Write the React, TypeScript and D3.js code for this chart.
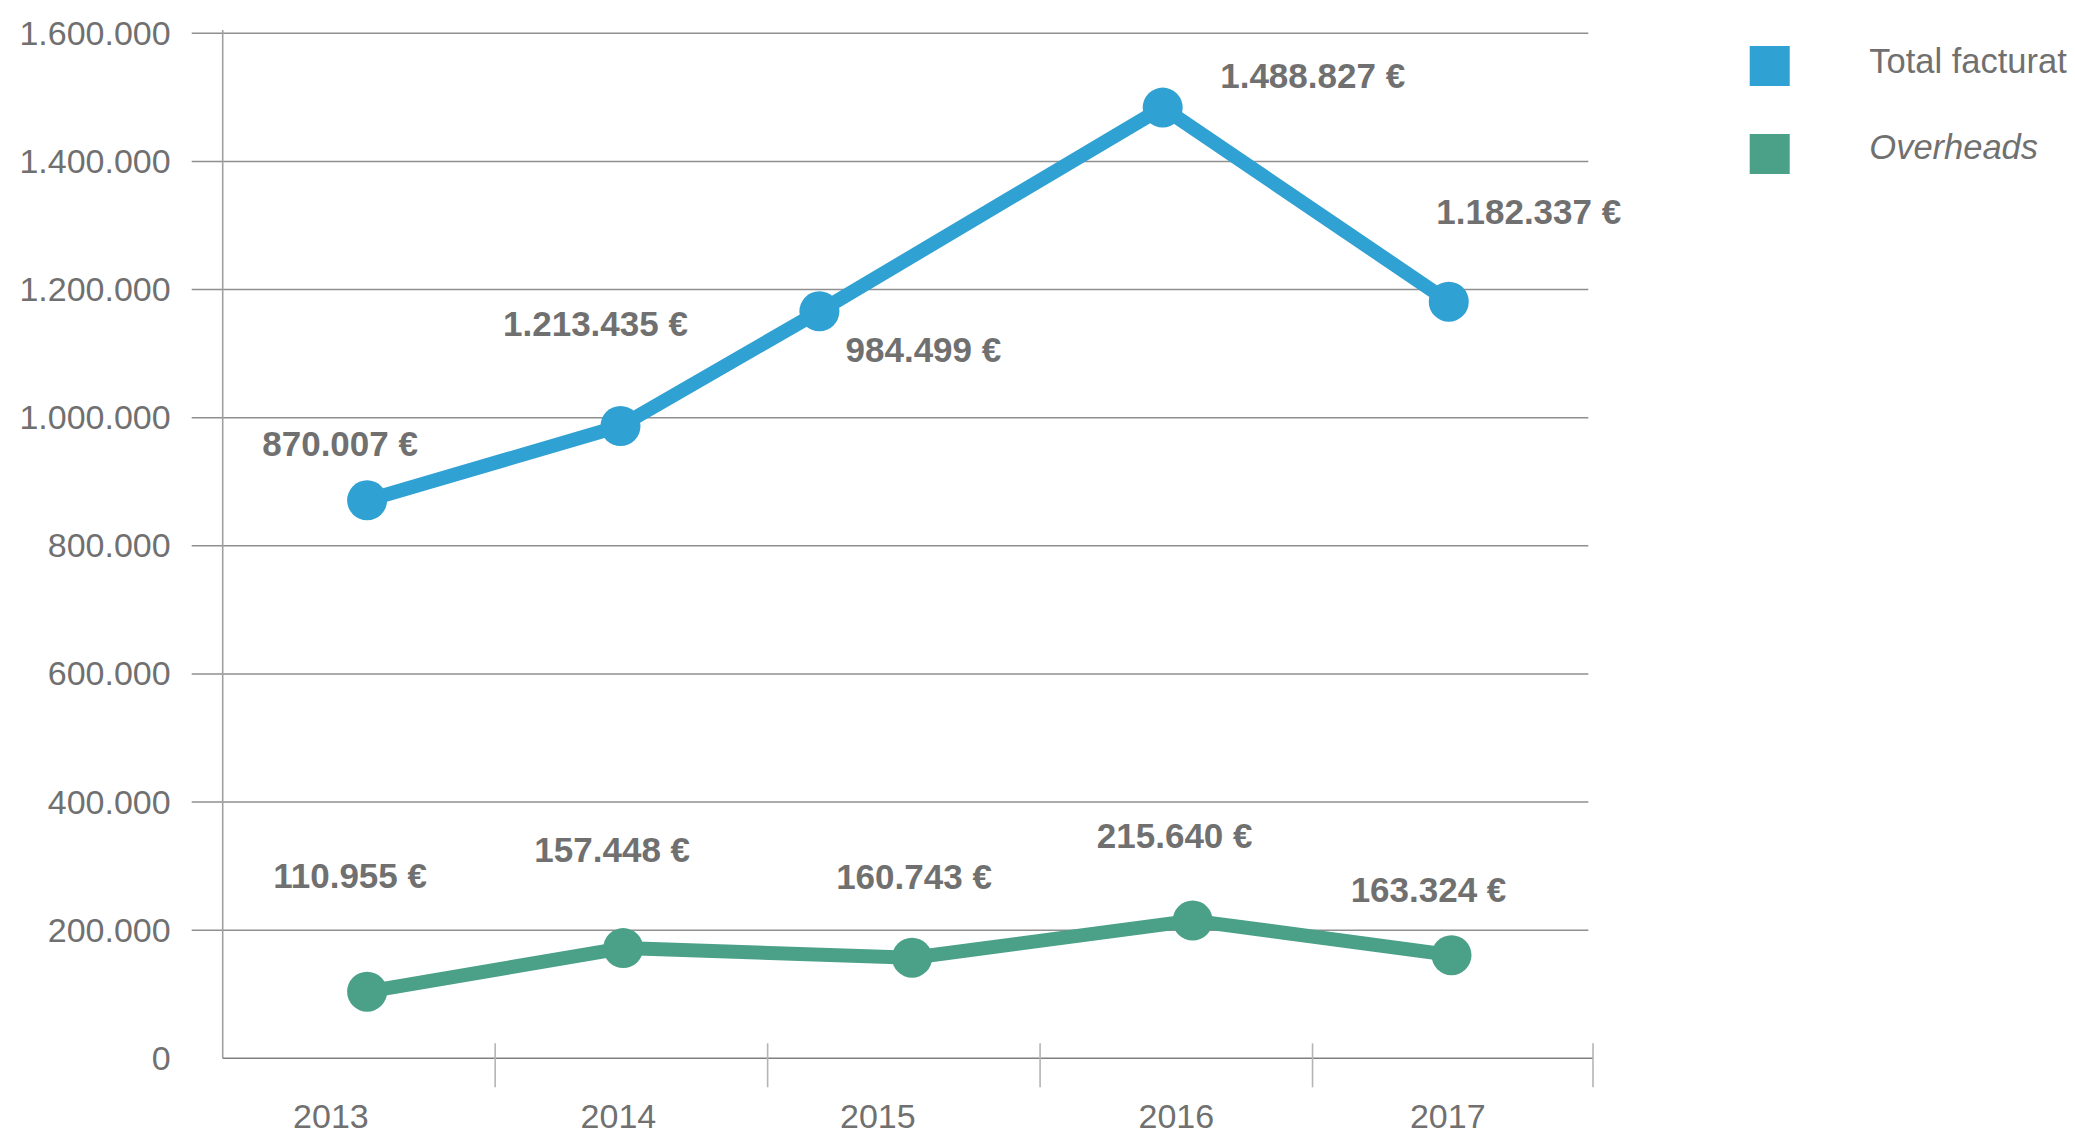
import React from "react";
import * as d3 from "d3";

// ---- data ----
const years = [2013, 2014, 2015, 2016, 2017];
const yTicks = [0, 200000, 400000, 600000, 800000, 1000000, 1200000, 1400000, 1600000];
const yTickLabels = ["0", "200.000", "400.000", "600.000", "800.000", "1.000.000", "1.200.000", "1.400.000", "1.600.000"];

// Total facturat: plotted positions (in year units) and plotted values
const totalYearPos = [2013.03, 2013.96, 2014.69, 2015.95, 2017.0];
const totalValues = [871000, 987000, 1166000, 1484000, 1181000];
const totalLabels = ["870.007 €", "1.213.435 €", "984.499 €", "1.488.827 €", "1.182.337 €"];

// Overheads
const overheadYearPos = [2013.03, 2013.97, 2015.03, 2016.06, 2017.01];
const overheadValues = [104000, 172000, 157000, 215000, 161000];
const overheadLabels = ["110.955 €", "157.448 €", "160.743 €", "215.640 €", "163.324 €"];

const legendNames = ["Total facturat", "Overheads"];

// ---- layout ----
const W = 2075;
const H = 1134;
const BLUE = "#30a1d3";
const GREEN = "#4ba088";
const TEXT = "#707070";
const GRID = "#8f8f8f";
const FONT = "'Liberation Sans', Arial, Helvetica, sans-serif";

// label offsets relative to markers / band centres (pixels)
const totalLabelOffsets = [[-27, -44], [-25, -90], [104, 51], [150, -20], [80, -78]];
const overheadLabelOffsets = [[-17, -104], [-11, -86], [2, -69], [-18, -73], [-23, -53]];
const xLabelOffsets = [-28, -13, -26, 0, -1];

export default function App() {
  const x = d3.scaleLinear().domain([2012.5, 2017.5]).range([222.7, 1585]);
  const y = d3.scaleLinear().domain([0, 1600000]).range([1058.3, 33.3]);
  const y0 = y(0);
  const axisEnd = 1593;

  const line = d3
    .line<[number, number]>()
    .x((d) => x(d[0]))
    .y((d) => y(d[1]));

  const totalPts: [number, number][] = totalYearPos.map((p, i) => [p, totalValues[i]]);
  const overPts: [number, number][] = overheadYearPos.map((p, i) => [p, overheadValues[i]]);

  const tickXs = [...years.slice(0, -1).map((yr) => x(yr + 0.5)), axisEnd];

  const series = [
    { pts: totalPts, color: BLUE, labels: totalLabels, offs: totalLabelOffsets },
    { pts: overPts, color: GREEN, labels: overheadLabels, offs: overheadLabelOffsets },
  ];

  return (
    <svg
      width={W}
      height={H}
      style={{ position: "absolute", left: 0, top: 0, background: "#fff" }}
      fontFamily={FONT}
    >
      {/* gridlines */}
      {yTicks.slice(1).map((t) => (
        <line key={t} x1={191.7} x2={1588.3} y1={y(t)} y2={y(t)} stroke={GRID} strokeWidth={1.6} />
      ))}
      {/* y labels */}
      {yTicks.map((t, i) => (
        <text key={"yl" + t} x={170.7} y={y(t) + 11.5} textAnchor="end" fontSize={34} fill={TEXT}>
          {yTickLabels[i]}
        </text>
      ))}
      {/* axes */}
      <line x1={222.7} x2={222.7} y1={30} y2={y0} stroke="#a0a0a0" strokeWidth={1.6} />
      <line x1={222.7} x2={axisEnd} y1={y0} y2={y0} stroke="#808080" strokeWidth={1.6} />
      {tickXs.map((tx, i) => (
        <line key={"tk" + i} x1={tx} x2={tx} y1={y0 - 15} y2={y0 + 29} stroke="#b4b4b4" strokeWidth={1.6} />
      ))}
      {/* x labels */}
      {years.map((yr, i) => (
        <text key={"xl" + yr} x={x(yr) + xLabelOffsets[i]} y={y0 + 70} textAnchor="middle" fontSize={34} fill={TEXT}>
          {String(yr)}
        </text>
      ))}
      {/* series */}
      {series.map((s, si) => (
        <g key={"s" + si}>
          <path d={line(s.pts) || ""} fill="none" stroke={s.color} strokeWidth={14} strokeLinejoin="round" />
          {s.pts.map((p, i) => (
            <circle key={i} cx={x(p[0])} cy={y(p[1])} r={20} fill={s.color} />
          ))}
        </g>
      ))}
      {/* value labels */}
      {series.map((s, si) =>
        s.pts.map((p, i) => (
          <text
            key={"vl" + si + "-" + i}
            x={x(p[0]) + s.offs[i][0]}
            y={y(p[1]) + s.offs[i][1]}
            textAnchor="middle"
            fontSize={35}
            fontWeight="bold"
            fill={TEXT}
          >
            {s.labels[i]}
          </text>
        ))
      )}
      {/* legend */}
      {[BLUE, GREEN].map((c, i) => (
        <g key={"lg" + i}>
          <rect x={1749.7} y={46 + i * 88} width={40} height={40} fill={c} />
          <text
            x={1869.3}
            y={72.7 + i * 86.6}
            fontSize={34.5}
            fill={TEXT}
            fontStyle={i === 1 ? "italic" : "normal"}
          >
            {legendNames[i]}
          </text>
        </g>
      ))}
    </svg>
  );
}
